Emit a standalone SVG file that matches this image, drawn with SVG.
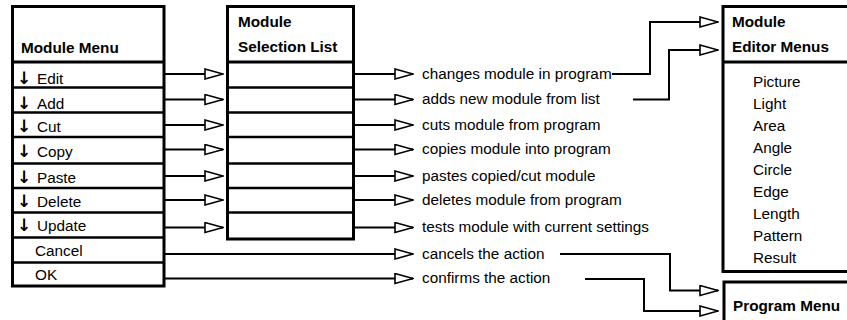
<svg xmlns="http://www.w3.org/2000/svg" width="847" height="320" viewBox="0 0 847 320">
  <style>
    text { font-family: "Liberation Sans", Arial, Helvetica, sans-serif; font-size: 15.3px; fill: #000; }
    .b { font-weight: bold; }
    .ar { font-family: "DejaVu Sans", "Liberation Sans", sans-serif; font-weight: bold; font-size: 17px; }
    .box { fill: #fff; stroke: #000; stroke-width: 3; }
    .hdr { stroke: #000; stroke-width: 3; }
    .row { stroke: #000; stroke-width: 2.5; }
    .conn { fill: none; stroke: #000; stroke-width: 2; marker-end: url(#ah); }
  </style>
  <defs>
    <marker id="ah" viewBox="0 0 20 12" markerWidth="20" markerHeight="12" refX="19" refY="6" orient="auto" markerUnits="userSpaceOnUse">
      <path d="M1,1 L19,6 L1,11 Z" fill="#fff" stroke="#000" stroke-width="1.6"/>
    </marker>
  </defs>
  <rect width="847" height="320" fill="#fff"/>

  <g id="connectors">
    <line class="conn" x1="164" y1="74" x2="223" y2="74"/>
    <line class="conn" x1="164" y1="99.5" x2="223" y2="99.5"/>
    <line class="conn" x1="164" y1="125" x2="223" y2="125"/>
    <line class="conn" x1="164" y1="149.5" x2="223" y2="149.5"/>
    <line class="conn" x1="164" y1="176" x2="223" y2="176"/>
    <line class="conn" x1="164" y1="200" x2="223" y2="200"/>
    <line class="conn" x1="164" y1="227.5" x2="223" y2="227.5"/>
    <line class="conn" x1="353" y1="74" x2="413" y2="74"/>
    <line class="conn" x1="353" y1="99.5" x2="413" y2="99.5"/>
    <line class="conn" x1="353" y1="125" x2="413" y2="125"/>
    <line class="conn" x1="353" y1="149.5" x2="413" y2="149.5"/>
    <line class="conn" x1="353" y1="176" x2="413" y2="176"/>
    <line class="conn" x1="353" y1="200" x2="413" y2="200"/>
    <line class="conn" x1="353" y1="227.5" x2="413" y2="227.5"/>
    <line class="conn" x1="164" y1="254" x2="413" y2="254"/>
    <line class="conn" x1="164" y1="278.5" x2="413" y2="278.5"/>
    <polyline class="conn" points="612,74 650,74 650,22 718,22"/>
    <polyline class="conn" points="633,99.5 669,99.5 669,50 718,50"/>
    <polyline class="conn" points="560,254 670,254 670,290.5 718,290.5"/>
    <polyline class="conn" points="585,279 644,279 644,311 718,311"/>
  </g>

  <g id="module-menu">
    <rect class="box" x="12.5" y="6.5" width="151.5" height="279.5"/>
    <line class="hdr" x1="12.5" y1="62" x2="164" y2="62"/>
    <line class="row" x1="12.5" y1="87.5" x2="164" y2="87.5"/>
    <line class="row" x1="12.5" y1="112.5" x2="164" y2="112.5"/>
    <line class="row" x1="12.5" y1="137" x2="164" y2="137"/>
    <line class="row" x1="12.5" y1="163.5" x2="164" y2="163.5"/>
    <line class="row" x1="12.5" y1="188" x2="164" y2="188"/>
    <line class="row" x1="12.5" y1="212.5" x2="164" y2="212.5"/>
    <line class="row" x1="12.5" y1="237.5" x2="164" y2="237.5"/>
    <line class="row" x1="12.5" y1="262.5" x2="164" y2="262.5"/>
    <text class="b" x="21" y="53">Module Menu</text>
    <text x="17" y="83.5"><tspan class="ar">↓</tspan><tspan x="37">Edit</tspan></text>
    <text x="17" y="108.5"><tspan class="ar">↓</tspan><tspan x="37">Add</tspan></text>
    <text x="17" y="132"><tspan class="ar">↓</tspan><tspan x="37">Cut</tspan></text>
    <text x="17" y="156.5"><tspan class="ar">↓</tspan><tspan x="37">Copy</tspan></text>
    <text x="17" y="182.5"><tspan class="ar">↓</tspan><tspan x="37">Paste</tspan></text>
    <text x="17" y="206.5"><tspan class="ar">↓</tspan><tspan x="37">Delete</tspan></text>
    <text x="17" y="231"><tspan class="ar">↓</tspan><tspan x="37">Update</tspan></text>
    <text x="35" y="256">Cancel</text>
    <text x="35" y="280">OK</text>
  </g>

  <g id="selection-list">
    <rect class="box" x="227.5" y="6.5" width="126" height="232.5"/>
    <line class="hdr" x1="227.5" y1="62" x2="353.5" y2="62"/>
    <line class="row" x1="227.5" y1="87.5" x2="353.5" y2="87.5"/>
    <line class="row" x1="227.5" y1="112.5" x2="353.5" y2="112.5"/>
    <line class="row" x1="227.5" y1="137" x2="353.5" y2="137"/>
    <line class="row" x1="227.5" y1="163.5" x2="353.5" y2="163.5"/>
    <line class="row" x1="227.5" y1="188" x2="353.5" y2="188"/>
    <line class="row" x1="227.5" y1="212.5" x2="353.5" y2="212.5"/>
    <text class="b" x="238" y="27">Module</text>
    <text class="b" x="238" y="52">Selection List</text>
  </g>

  <g id="action-labels">
    <text x="422" y="78.5">changes module in program</text>
    <text x="422" y="104">adds new module from list</text>
    <text x="422" y="129.5">cuts module from program</text>
    <text x="422" y="154">copies module into program</text>
    <text x="422" y="180.5">pastes copied/cut module</text>
    <text x="422" y="204.5">deletes module from program</text>
    <text x="422" y="232">tests module with current settings</text>
    <text x="422" y="258.5">cancels the action</text>
    <text x="422" y="283">confirms the action</text>
  </g>

  <g id="editor-menus">
    <rect class="box" x="723" y="6.5" width="130" height="265"/>
    <line class="hdr" x1="723" y1="62" x2="853" y2="62"/>
    <text class="b" x="732" y="27">Module</text>
    <text class="b" x="732" y="52">Editor Menus</text>
    <text x="753" y="87">Picture</text>
    <text x="753" y="109">Light</text>
    <text x="753" y="131">Area</text>
    <text x="753" y="153">Angle</text>
    <text x="753" y="175">Circle</text>
    <text x="753" y="197">Edge</text>
    <text x="753" y="219">Length</text>
    <text x="753" y="241">Pattern</text>
    <text x="753" y="263">Result</text>
  </g>

  <g id="program-menu">
    <rect class="box" x="724" y="282" width="130" height="50"/>
    <text class="b" x="733" y="311">Program Menu</text>
  </g>
</svg>
